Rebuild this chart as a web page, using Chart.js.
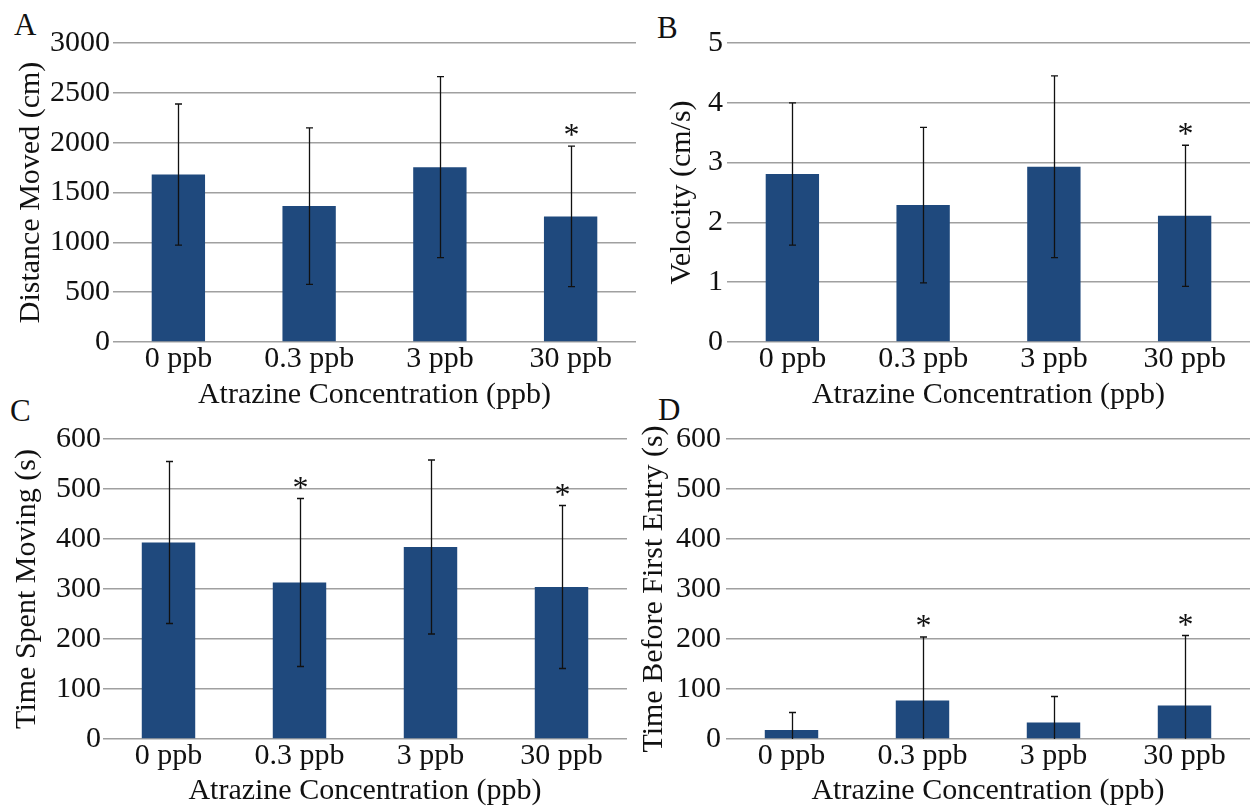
<!DOCTYPE html>
<html><head><meta charset="utf-8">
<script src="https://cdn.jsdelivr.net/npm/chart.js@4.4.1/dist/chart.umd.min.js"></script>
<style>
html,body{margin:0;padding:0;background:#fff;width:1256px;height:806px;overflow:hidden;}
body{position:relative;}
.panel{position:absolute;}
.panel canvas{display:block;}
.letter{position:absolute;font-family:'Liberation Serif',serif;font-size:31px;line-height:30px;color:#111;}
</style></head><body>
<div class="letter" style="left:14px;top:10px">A</div>
<div class="letter" style="left:657px;top:13px">B</div>
<div class="letter" style="left:10px;top:396px">C</div>
<div class="letter" style="left:658px;top:395px">D</div>
<div class="panel" id="pA" style="left:0;top:0"><canvas id="cA"></canvas></div>
<div class="panel" id="pB" style="left:630px;top:0"><canvas id="cB"></canvas></div>
<div class="panel" id="pC" style="left:0;top:400px"><canvas id="cC"></canvas></div>
<div class="panel" id="pD" style="left:630px;top:400px"><canvas id="cD"></canvas></div>
<script>
// ---- data ----
const categories = ['0 ppb', '0.3 ppb', '3 ppb', '30 ppb'];
const xAxisTitle = 'Atrazine Concentration (ppb)';

const distanceMean = [1680, 1364, 1754, 1260];
const distanceSD   = [708, 785, 908, 705];
const distanceSig  = [false, false, false, true];

const velocityMean = [2.81, 2.29, 2.93, 2.11];
const velocitySD   = [1.19, 1.30, 1.52, 1.18];
const velocitySig  = [false, false, false, true];

const movingMean = [393, 313, 384, 304];
const movingSD   = [162, 168, 174, 163];
const movingSig  = [false, true, false, true];

const entryMean = [18, 77, 33, 67];
const entrySD   = [35, 127, 52, 140];
const entrySig  = [false, true, false, true];

// ---- style ----
const FONT = "'Liberation Serif', 'Times New Roman', serif";
const BAR = '#1F497D';
const GRID = '#a0a0a0';
const TXT = '#111111';

const errorBarPlugin = {
  id: 'errorBars',
  afterDatasetsDraw(chart, args, opts) {
    const ctx = chart.ctx;
    const meta = chart.getDatasetMeta(0);
    const ys = chart.scales.y;
    const vals = chart.data.datasets[0].data;
    ctx.save();
    ctx.strokeStyle = '#111';
    ctx.lineWidth = 1.3;
    meta.data.forEach((bar, i) => {
      const m = vals[i], e = opts.errors[i];
      const hi = m + e;
      const loRaw = m - e;
      const lo = Math.max(ys.min, loRaw);
      const x = Math.round(bar.x) + 0.5;
      const yHi = ys.getPixelForValue(hi);
      const yLo = ys.getPixelForValue(lo);
      ctx.beginPath();
      ctx.moveTo(x, yHi); ctx.lineTo(x, yLo);
      ctx.moveTo(x - 3.5, yHi); ctx.lineTo(x + 3.5, yHi);
      if (loRaw >= ys.min) { ctx.moveTo(x - 3.5, yLo); ctx.lineTo(x + 3.5, yLo); }
      ctx.stroke();
      if (opts.marks[i]) {
        ctx.fillStyle = TXT;
        ctx.font = '32px ' + FONT;
        ctx.textAlign = 'center';
        ctx.textBaseline = 'alphabetic';
        ctx.fillText('*', x, yHi - 1);
      }
    });
    ctx.restore();
  }
};

function makePanel(canvasId, p) {
  const cv = document.getElementById(canvasId);
  cv.width = p.w; cv.height = p.h;
  cv.style.width = p.w + 'px'; cv.style.height = p.h + 'px';
  const yWidth = p.area.l - p.axisLeft;
  new Chart(cv, {
    type: 'bar',
    data: {
      labels: categories,
      datasets: [{
        data: p.mean,
        backgroundColor: BAR,
        borderWidth: 0,
        categoryPercentage: 1.0,
        barPercentage: 0.408
      }]
    },
    options: {
      responsive: false,
      animation: false,
      devicePixelRatio: 1,
      layout: { padding: { left: p.axisLeft, top: p.area.t, right: p.w - p.area.r, bottom: p.h - p.area.b - p.xH } },
      plugins: {
        legend: { display: false },
        tooltip: { enabled: false },
        errorBars: { errors: p.sd, marks: p.sig }
      },
      scales: {
        x: {
          grid: { display: false },
          border: { display: false },
          ticks: { color: TXT, font: { family: FONT, size: 30, lineHeight: 1 }, padding: p.xTickPad, maxRotation: 0, autoSkip: false },
          title: { display: true, text: xAxisTitle, color: TXT, font: { family: FONT, size: 30, lineHeight: 1 }, padding: 0 },
          afterFit(s) { s.height = p.xH; }
        },
        y: {
          min: 0, max: p.max,
          grid: { color: GRID, lineWidth: 1.6, drawTicks: false },
          border: { display: false },
          ticks: {
            stepSize: p.step, color: TXT, padding: p.yTickPad,
            font: { family: FONT, size: 30, lineHeight: 1 },
            callback: p.tickCb || ((v) => v)
          },
          title: { display: true, text: p.yTitle, color: TXT, font: { family: FONT, size: 30, lineHeight: 1.2 }, padding: 0 },
          afterFit(s) { s.width = yWidth; }
        }
      }
    },
    plugins: [errorBarPlugin]
  });
}

makePanel('cA', {
  w: 640, h: 420, area: { l: 113, t: 43, r: 636, b: 342 }, axisLeft: 13, xH: 68,
  xTickPad: -6, yTickPad: 3,
  mean: distanceMean, sd: distanceSD, sig: distanceSig, max: 3000, step: 500,
  yTitle: 'Distance Moved (cm)'
});
makePanel('cB', {
  w: 626, h: 420, area: { l: 97, t: 43, r: 620, b: 342 }, axisLeft: 34, xH: 68,
  xTickPad: -6, yTickPad: 4,
  mean: velocityMean, sd: velocitySD, sig: velocitySig, max: 5, step: 0.5,
  tickCb: (v) => (Number.isInteger(v) ? v : ''),
  yTitle: 'Velocity (cm/s)'
});
makePanel('cC', {
  w: 640, h: 406, area: { l: 103, t: 39, r: 627, b: 339 }, axisLeft: 9, xH: 67,
  xTickPad: -6, yTickPad: 2,
  mean: movingMean, sd: movingSD, sig: movingSig, max: 600, step: 100,
  yTitle: 'Time Spent Moving (s)'
});
makePanel('cD', {
  w: 626, h: 406, area: { l: 96, t: 39, r: 620, b: 339 }, axisLeft: 6, xH: 67,
  xTickPad: -6, yTickPad: 5,
  mean: entryMean, sd: entrySD, sig: entrySig, max: 600, step: 100,
  yTitle: 'Time Before First Entry (s)'
});
</script>
</body></html>
